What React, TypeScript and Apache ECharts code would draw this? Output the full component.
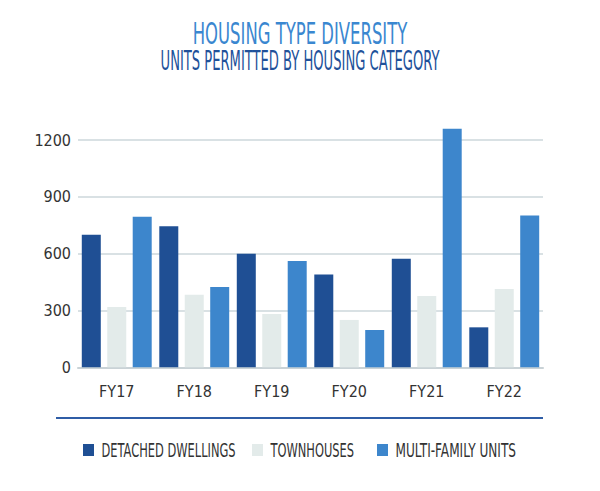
import React, { useEffect, useRef } from "react";
import * as echarts from "echarts";

const categories = ["FY17", "FY18", "FY19", "FY20", "FY21", "FY22"];
const seriesNames = ["DETACHED DWELLINGS", "TOWNHOUSES", "MULTI-FAMILY UNITS"];
const detached = [700, 745, 600, 490, 573, 211];
const townhouses = [318, 383, 281, 250, 376, 413];
const multiFamily = [795, 424, 561, 197, 1260, 802];
const yTicks = { min: 0, max: 1200, interval: 300 };

const FONT = "'DejaVu Sans Condensed', 'Roboto', sans-serif";
const COLORS = ["#1F4F94", "#E3EBEA", "#3D86CC"];

export default function App() {
  const ref = useRef<HTMLDivElement>(null);
  useEffect(() => {
    if (!ref.current) return;
    const chart = echarts.init(ref.current, null, { renderer: "svg" });
    const barBase = {
      type: "bar",
      barWidth: 19,
      barGap: "34%",
      clip: false,
    };
    const legendX = [83, 252, 377];
    const legendScale = [0.67, 0.67, 0.71];
    const legendGraphics: any[] = [];
    seriesNames.forEach((n, i) => {
      legendGraphics.push({
        type: "rect",
        shape: { x: legendX[i], y: 444, width: 11, height: 12 },
        style: { fill: COLORS[i] },
      });
      legendGraphics.push({
        type: "text",
        x: legendX[i] + 18.5,
        y: 451,
        scaleX: legendScale[i],
        style: {
          text: n,
          fill: "#333",
          font: `19px ${FONT}`,
          align: "left",
          verticalAlign: "middle",
        },
      });
    });
    chart.setOption({
      animation: false,
      backgroundColor: "#ffffff",
      textStyle: { fontFamily: FONT },
      grid: { left: 78, right: 57, top: 140, bottom: 123.7, containLabel: false },
      legend: { show: false, data: seriesNames },
      graphic: [
        {
          type: "text",
          x: 300,
          y: 34,
          scaleX: 0.61,
          style: {
            text: "HOUSING TYPE DIVERSITY",
            fill: "#3A87D0",
            font: `30px ${FONT}`,
            align: "center",
            verticalAlign: "middle",
          },
        },
        {
          type: "text",
          x: 300,
          y: 60.5,
          scaleX: 0.54,
          style: {
            text: "UNITS PERMITTED BY HOUSING CATEGORY",
            fill: "#21519A",
            font: `27px ${FONT}`,
            align: "center",
            verticalAlign: "middle",
          },
        },
        {
          type: "line",
          shape: { x1: 56, y1: 418, x2: 543, y2: 418 },
          style: { stroke: "#2F5DA6", lineWidth: 2 },
        },
        ...legendGraphics,
      ],
      xAxis: {
        type: "category",
        data: categories,
        axisLine: { show: true, lineStyle: { color: "#C9D2D6", width: 2 } },
        axisTick: { show: false },
        axisLabel: { fontFamily: FONT, fontSize: 16, color: "#333", margin: 16 },
      },
      yAxis: {
        type: "value",
        min: yTicks.min,
        max: yTicks.max,
        interval: yTicks.interval,
        axisLine: { show: false },
        axisTick: { show: false },
        axisLabel: {
          fontFamily: FONT,
          fontSize: 16,
          color: "#333",
          margin: 7,
          formatter: (v: number) => String(v),
        },
        splitLine: { lineStyle: { color: "#D9E1E4", width: 2 } },
      },
      series: [
        { ...barBase, name: seriesNames[0], data: detached, itemStyle: { color: COLORS[0] } },
        { ...barBase, name: seriesNames[1], data: townhouses, itemStyle: { color: COLORS[1] } },
        { ...barBase, name: seriesNames[2], data: multiFamily, itemStyle: { color: COLORS[2] } },
      ],
    });
    return () => chart.dispose();
  }, []);
  return (
    <div
      ref={ref}
      style={{ position: "fixed", left: 0, top: 0, width: 600, height: 491, background: "#fff" }}
    />
  );
}
